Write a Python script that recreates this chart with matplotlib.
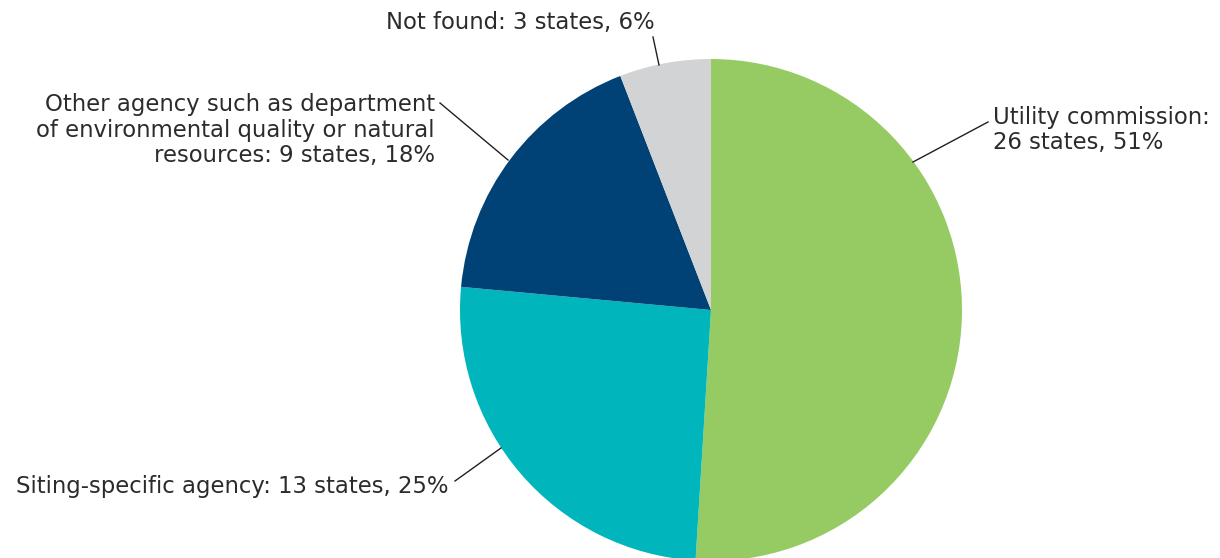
import matplotlib.pyplot as plt

labels = ["Utility commission:\n26 states, 51%",
          "Siting-specific agency: 13 states, 25%",
          "Other agency such as department\nof environmental quality or natural\nresources: 9 states, 18%",
          "Not found: 3 states, 6%"]
states = [26, 13, 9, 3]
colors = ["#96CB64", "#00B6BC", "#004276", "#D1D3D4"]

W, H = 1220, 558
fig = plt.figure(figsize=(W / 100, H / 100), dpi=100)
ax = fig.add_axes([0, 0, 1, 1])

cx, cy, r = 711, H - 310, 251
ax.pie(states, colors=colors, startangle=90, counterclock=False,
       center=(cx, cy), radius=r, frame=True,
       wedgeprops=dict(linewidth=0))
ax.set_xlim(0, W)
ax.set_ylim(0, H)
ax.set_aspect("equal")
ax.axis("off")

txt = dict(fontsize=16.4, color="#2b2b2b", family="DejaVu Sans", linespacing=1.13)

# label placement (pixel coords, y from top) and leader lines
ax.text(993, H - 130, labels[0], ha="left", va="center", **txt)
ax.plot([913, 988], [H - 162, H - 122], color="#231F20", lw=1)

ax.text(448, H - 486, labels[1], ha="right", va="center", **txt)
ax.plot([455, 501], [H - 481, H - 448], color="#231F20", lw=1)

ax.text(435, H - 130, labels[2], ha="right", va="center", multialignment="right", **txt)
ax.plot([440, 508], [H - 103, H - 160], color="#231F20", lw=1)

ax.text(655, H - 22, labels[3], ha="right", va="center", **txt)
ax.plot([653, 659], [H - 37, H - 65], color="#231F20", lw=1)

fig.savefig("out.png", dpi=100)
